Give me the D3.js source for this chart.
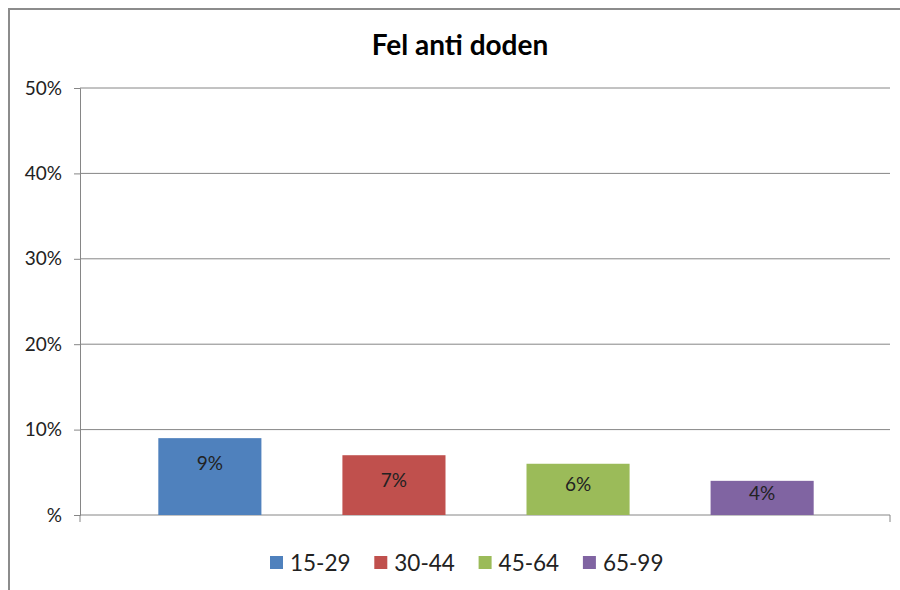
<!DOCTYPE html>
<html>
<head>
<meta charset="utf-8">
<script src="https://cdn.jsdelivr.net/npm/d3@7"></script>
<style>
    body { margin: 0; background: #fff; }
    svg { display: block; font-family: Lato, "Open Sans", sans-serif; }
</style>
</head>
<body>
<div id="chart"></div>
<script>
// Chart data
const title = 'Fel anti doden'
const groups = ['15-29', '30-44', '45-64', '65-99']
const values = [0.09, 0.07, 0.06, 0.04]
const colors = ['#4f81bd', '#c0504d', '#9bbb59', '#8064a2']
const yTicks = [0, 0.1, 0.2, 0.3, 0.4, 0.5]

const width = 900, height = 590
const margin = {top: 88, right: 10, bottom: 75, left: 80}

const svg = d3.select('#chart')
    .append('svg')
    .attr('width', width)
    .attr('height', height)

// outer chart border (only left + top visible in crop)
svg.append('path')
    .attr('d', `M9,${height} L9,9 L${width + 5},9`)
    .attr('fill', 'none')
    .attr('stroke', '#8c8c8c')
    .attr('stroke-width', 2)

const x = d3.scaleBand()
    .domain(groups)
    .range([margin.left + 1, width - margin.right + 1])
    .paddingInner(0.44)
    .paddingOuter(0.42)

const y = d3.scaleLinear()
    .domain([0, 0.5])
    .range([height - margin.bottom, margin.top])

// gridlines
svg.append('g')
    .selectAll('line')
    .data(yTicks.filter(d => d > 0))
    .join('line')
    .attr('x1', margin.left)
    .attr('x2', width - margin.right)
    .attr('y1', d => y(d))
    .attr('y2', d => y(d))
    .attr('stroke', '#868686')
    .attr('stroke-width', 1)

// y axis
const yAxis = svg.append('g')
    .attr('transform', `translate(${margin.left},0)`)
    .call(d3.axisLeft(y).tickValues(yTicks).tickSize(6).tickPadding(12)
        .tickFormat(d => d === 0 ? '%' : d3.format('.0%')(d)))
yAxis.selectAll('line, path').attr('stroke', '#868686')
yAxis.selectAll('text')
    .attr('font-size', 19)
    .attr('fill', '#222')
    .attr('font-family', 'Lato, sans-serif')

// x axis line with end ticks
const x0 = margin.left, x1 = width - margin.right, yb = y(0)
svg.append('path')
    .attr('d', `M${x0},${yb + 7} L${x0},${yb} L${x1},${yb} L${x1},${yb + 7}`)
    .attr('fill', 'none')
    .attr('stroke', '#868686')

// bars
svg.append('g')
    .selectAll('rect')
    .data(groups)
    .join('rect')
    .attr('x', d => x(d))
    .attr('y', (d, i) => y(values[i]))
    .attr('width', x.bandwidth())
    .attr('height', (d, i) => y(0) - y(values[i]))
    .attr('fill', (d, i) => colors[i])

// value labels
svg.append('g')
    .selectAll('text')
    .data(groups)
    .join('text')
    .attr('x', d => x(d) + x.bandwidth() / 2)
    .attr('y', (d, i) => Math.min(y(values[i]) + 25, (y(values[i]) + y(0)) / 2 - 5))
    .attr('dy', '0.35em')
    .attr('text-anchor', 'middle')
    .attr('font-size', 19)
    .attr('fill', '#222')
    .text((d, i) => d3.format('.0%')(values[i]))

// title
svg.append('text')
    .attr('x', 460)
    .attr('y', 45)
    .attr('dy', '0.35em')
    .attr('text-anchor', 'middle')
    .attr('font-size', 28)
    .attr('font-weight', 'bold')
    .attr('fill', '#000')
    .text(title)

// legend
const legend = svg.append('g')
    .selectAll('g')
    .data(groups)
    .join('g')
    .attr('transform', (d, i) => `translate(${270 + i * 104.3},563)`)
legend.append('rect')
    .attr('x', 0)
    .attr('y', -7)
    .attr('width', 13)
    .attr('height', 13)
    .attr('fill', (d, i) => colors[i])
legend.append('text')
    .attr('x', 20)
    .attr('y', 0)
    .attr('dy', '0.35em')
    .attr('font-size', 22.5)
    .attr('fill', '#222')
    .text(d => d)
</script>
</body>
</html>
